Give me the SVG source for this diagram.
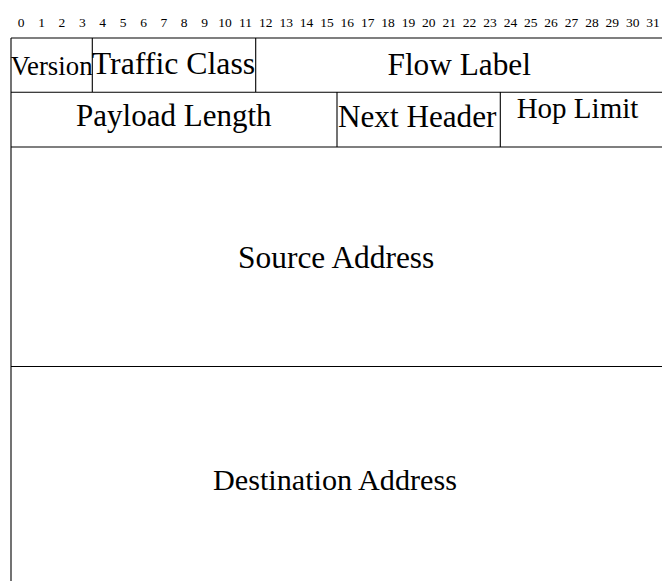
<svg xmlns="http://www.w3.org/2000/svg" width="662" height="581" viewBox="0 0 662 581">
<style>
.bit{font-family:"Liberation Serif",serif;font-size:13.5px;fill:#000;text-anchor:middle}
.lbl{font-family:"Liberation Serif",serif;font-size:31px;fill:#000;text-anchor:middle}
.ln{stroke:#000;stroke-width:1.1;fill:none}
</style>
<rect width="662" height="581" fill="#fff"/>
<g id="bits">
<text class="bit" x="21.2" y="27">0</text><text class="bit" x="41.6" y="27">1</text><text class="bit" x="61.9" y="27">2</text><text class="bit" x="82.3" y="27">3</text>
<text class="bit" x="102.7" y="27">4</text><text class="bit" x="123.1" y="27">5</text><text class="bit" x="143.5" y="27">6</text><text class="bit" x="163.9" y="27">7</text>
<text class="bit" x="184.2" y="27">8</text><text class="bit" x="204.6" y="27">9</text><text class="bit" x="225.0" y="27">10</text><text class="bit" x="245.4" y="27">11</text>
<text class="bit" x="265.8" y="27">12</text><text class="bit" x="286.2" y="27">13</text><text class="bit" x="306.5" y="27">14</text><text class="bit" x="326.9" y="27">15</text>
<text class="bit" x="347.3" y="27">16</text><text class="bit" x="367.7" y="27">17</text><text class="bit" x="388.1" y="27">18</text><text class="bit" x="408.5" y="27">19</text>
<text class="bit" x="428.8" y="27">20</text><text class="bit" x="449.2" y="27">21</text><text class="bit" x="469.6" y="27">22</text><text class="bit" x="490.0" y="27">23</text>
<text class="bit" x="510.4" y="27">24</text><text class="bit" x="530.8" y="27">25</text><text class="bit" x="551.1" y="27">26</text><text class="bit" x="571.5" y="27">27</text>
<text class="bit" x="591.9" y="27">28</text><text class="bit" x="612.3" y="27">29</text><text class="bit" x="632.7" y="27">30</text><text class="bit" x="653.1" y="27">31</text>
</g>
<g id="grid">
<path class="ln" d="M11,38 H663 M11,92.3 H663 M11,147 H663 M11,366.5 H663 M11,38 V581 M92.3,38 V92.3 M255.7,38 V92.3 M337,92.3 V147 M500.3,92.3 V147"/>
</g>
<g id="version"><text class="lbl" x="51.6" y="75" style="font-size:26.8px">Version</text></g>
<g id="traffic-class"><text class="lbl" x="173.5" y="74" style="font-size:31.8px">Traffic Class</text></g>
<g id="flow-label"><text class="lbl" x="459.2" y="75" style="font-size:31.3px">Flow Label</text></g>
<g id="payload-length"><text class="lbl" x="173.8" y="126">Payload Length</text></g>
<g id="next-header"><text class="lbl" x="417.2" y="127" style="font-size:31.2px">Next Header</text></g>
<g id="hop-limit"><text class="lbl" x="577.5" y="118" style="font-size:29px">Hop Limit</text></g>
<g id="source-address"><text class="lbl" x="336.2" y="268.3" style="font-size:31.4px">Source Address</text></g>
<g id="destination-address"><text class="lbl" x="335" y="490" style="font-size:30.2px">Destination Address</text></g>
</svg>
